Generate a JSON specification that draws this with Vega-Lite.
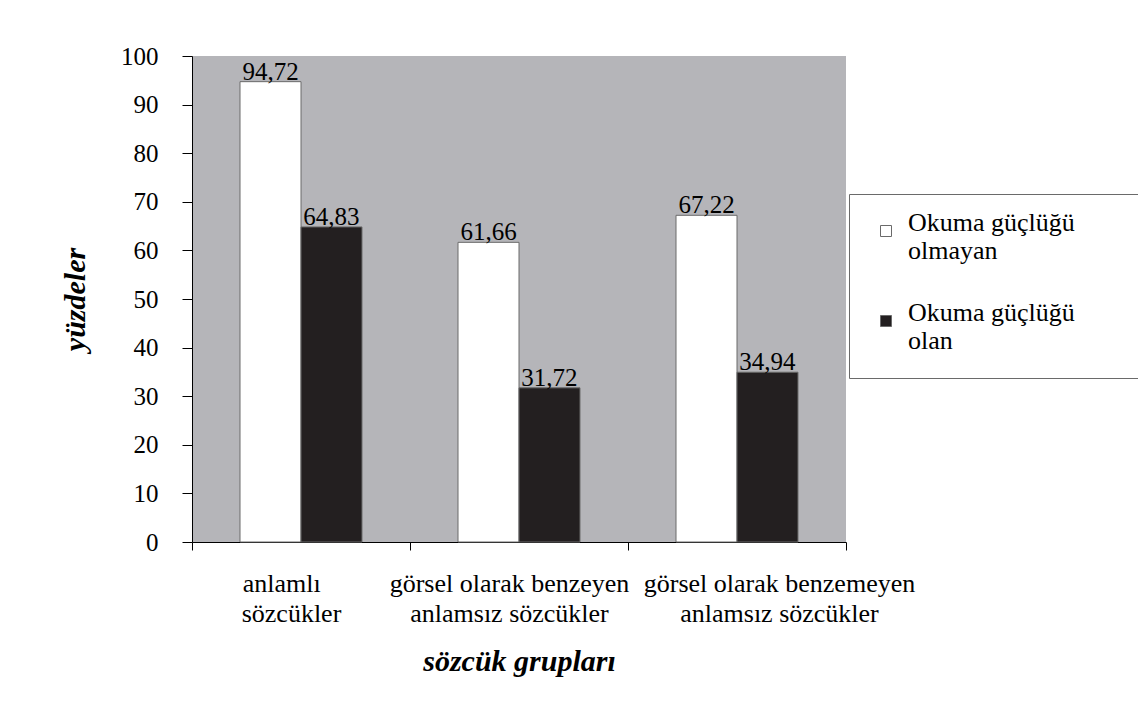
{
  "$schema": "https://vega.github.io/schema/vega-lite/v6.json",
  "width": 654,
  "height": 486,
  "autosize": {"type": "none"},
  "padding": {"left": 192, "top": 56, "right": 292, "bottom": 173},
  "background": "white",
  "data": {
    "values": [
      {"grup": "anlamlı\nsözcükler", "seri": "Okuma güçlüğü\nolmayan", "yuzde": 94.72},
      {"grup": "anlamlı\nsözcükler", "seri": "Okuma  güçlüğü\nolan", "yuzde": 64.83},
      {"grup": "görsel olarak benzeyen\nanlamsız sözcükler", "seri": "Okuma güçlüğü\nolmayan", "yuzde": 61.66},
      {"grup": "görsel olarak benzeyen\nanlamsız sözcükler", "seri": "Okuma  güçlüğü\nolan", "yuzde": 31.72},
      {"grup": "görsel olarak benzemeyen\nanlamsız sözcükler", "seri": "Okuma güçlüğü\nolmayan", "yuzde": 67.22},
      {"grup": "görsel olarak benzemeyen\nanlamsız sözcükler", "seri": "Okuma  güçlüğü\nolan", "yuzde": 34.94}
    ]
  },
  "encoding": {
    "x": {
      "field": "grup",
      "type": "nominal",
      "sort": null,
      "scale": {"paddingInner": 0, "paddingOuter": 0},
      "axis": {
        "title": "sözcük grupları",
        "labelAngle": 0,
        "labelExpr": "indexof(datum.label, 'anlamlı') == 0 ? [split(datum.label, '\\n')[0] + '\\u00a0\\u00a0\\u00a0\\u200b', split(datum.label, '\\n')[1]] : indexof(datum.label, 'benzemeyen') >= 0 ? ['\\u200b\\u00a0\\u00a0\\u00a0\\u00a0\\u00a0\\u00a0\\u00a0\\u00a0\\u00a0\\u00a0\\u00a0\\u00a0\\u00a0\\u00a0\\u00a0\\u00a0' + split(datum.label, '\\n')[0], '\\u200b\\u00a0\\u00a0\\u00a0\\u00a0\\u00a0\\u00a0\\u00a0\\u00a0\\u00a0\\u00a0\\u00a0\\u00a0\\u00a0\\u00a0\\u00a0\\u00a0' + split(datum.label, '\\n')[1]] : split(datum.label, '\\n')",
        "labelLineHeight": 30,
        "labelBaseline": "top",
        "labelPadding": 20,
        "labelFontSize": 26,
        "labelLimit": 600,
        "labelOffset": -10,
        "labelOverlap": false,
        "tickBand": "extent",
        "tickSize": 8,
        "titlePadding": 20,
        "titleFontSize": 30,
        "titleFontWeight": "bold",
        "titleFontStyle": "italic"
      }
    },
    "xOffset": {
      "field": "seri",
      "type": "nominal",
      "sort": null,
      "scale": {"paddingInner": 0, "paddingOuter": 0.787}
    },
    "y": {
      "field": "yuzde",
      "type": "quantitative",
      "scale": {"domain": [0, 100], "nice": false},
      "axis": {
        "title": "yüzdeler",
        "values": [0, 10, 20, 30, 40, 50, 60, 70, 80, 90, 100],
        "grid": false,
        "tickSize": 10,
        "labelPadding": 24,
        "labelFontSize": 25,
        "titlePadding": 30,
        "titleFontSize": 30,
        "titleFontWeight": "bold",
        "titleFontStyle": "italic"
      }
    }
  },
  "layer": [
    {
      "mark": {"type": "bar", "stroke": "#6a6a6a", "strokeWidth": 1},
      "encoding": {
        "fill": {
          "field": "seri",
          "type": "nominal",
          "sort": null,
          "scale": {"range": ["#ffffff", "#231f20"]},
          "legend": {
            "title": null,
            "orient": "none",
            "legendX": 657,
            "legendY": 138,
            "direction": "vertical",
            "fillColor": "white",
            "strokeColor": "#6a6a6a",
            "padding": 24,
            "symbolType": "square",
            "symbolSize": 121,
            "symbolOffset": 0,
            "symbolStrokeColor": "#6a6a6a",
            "symbolStrokeWidth": 1,
            "labelExpr": "[split(datum.label, '\\n')[0] + '\\u00a0\\u00a0\\u00a0\\u00a0\\u00a0\\u00a0\\u00a0\\u00a0\\u200b', split(datum.label, '\\n')[1]]",
            "labelFontSize": 26,
            "labelLineHeight": 29,
            "labelBaseline": "alphabetic",
            "labelOffset": 9,
            "labelLimit": 500,
            "rowPadding": 36
          }
        }
      }
    },
    {
      "mark": {"type": "text", "baseline": "alphabetic", "dy": -2, "fontSize": 25, "color": "black"},
      "encoding": {
        "text": {"field": "yuzde", "type": "quantitative", "format": ".2f"}
      }
    }
  ],
  "config": {
    "locale": {"number": {"decimal": ",", "thousands": ".", "grouping": [3], "currency": ["", ""]}},
    "font": "Liberation Serif",
    "view": {"fill": "#b5b5b9", "stroke": null},
    "axis": {
      "domainColor": "black",
      "tickColor": "black",
      "labelColor": "black",
      "titleColor": "black",
      "labelFont": "Liberation Serif",
      "titleFont": "Liberation Serif"
    },
    "legend": {"labelFont": "Liberation Serif", "labelColor": "black"},
    "text": {"font": "Liberation Serif"}
  }
}
